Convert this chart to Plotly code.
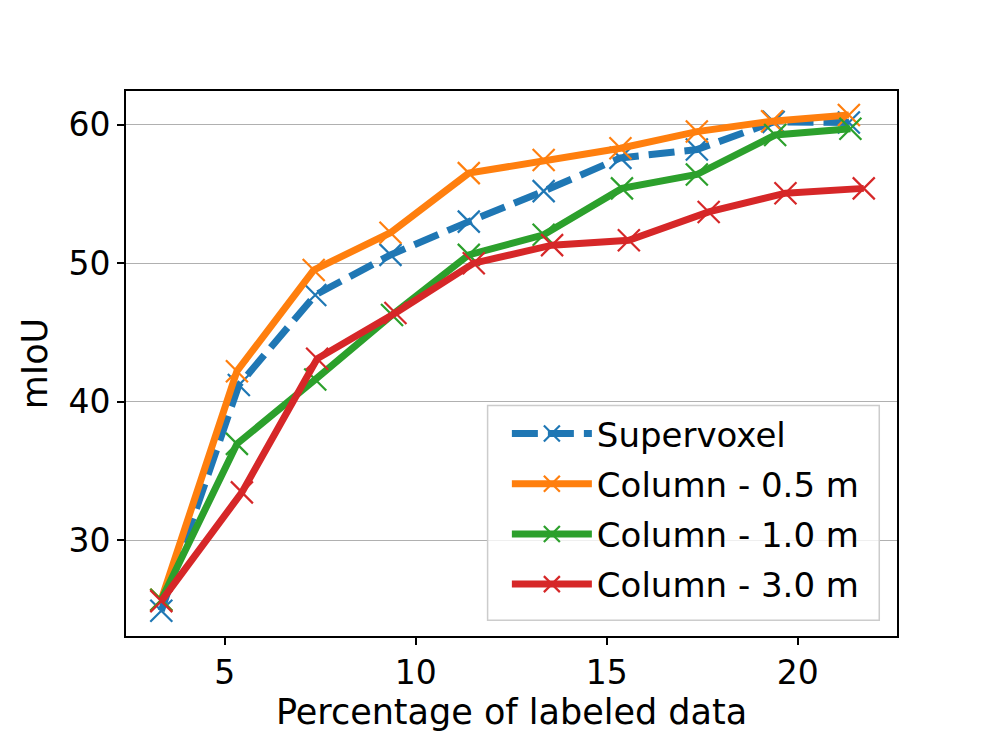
import plotly.graph_objects as go

# Data
sv_x = [3.34, 5.37, 7.37, 9.34, 11.39, 13.35, 15.36, 17.36, 19.37, 21.34]
sv_y = [24.9, 41.2, 47.7, 50.6, 53.0, 55.2, 57.6, 58.2, 60.2, 60.15]

c05_x = [3.34, 5.32, 7.33, 9.34, 11.39, 13.35, 15.36, 17.36, 19.33, 21.34]
c05_y = [25.7, 42.2, 49.5, 52.2, 56.5, 57.45, 58.3, 59.5, 60.25, 60.7]

c10_x = [3.34, 5.32, 7.37, 9.38, 11.39, 13.35, 15.40, 17.36, 19.41, 21.38]
c10_y = [25.7, 36.95, 41.6, 46.25, 50.6, 52.05, 55.4, 56.4, 59.25, 59.7]

c30_x = [3.34, 5.45, 7.42, 9.47, 11.52, 13.57, 15.58, 17.67, 19.68, 21.73]
c30_y = [25.6, 33.45, 43.1, 46.4, 50.0, 51.3, 51.65, 53.7, 55.05, 55.4]

names = ["Supervoxel", "Column - 0.5 m", "Column - 1.0 m", "Column - 3.0 m"]
colors = ["#1f77b4", "#ff7f0e", "#2ca02c", "#d62728"]
dashes = ["26px,10px", "solid", "solid", "solid"]
xticks = [5, 10, 15, 20]
yticks = [30, 40, 50, 60]

series = [(sv_x, sv_y), (c05_x, c05_y), (c10_x, c10_y), (c30_x, c30_y)]

fig = go.Figure()
for i, ((xs, ys), name, col, dash) in enumerate(zip(series, names, colors, dashes)):
    fig.add_trace(go.Scatter(
        x=xs, y=ys, name=name, mode="lines+markers",
        legendgroup=f"g{i}",
        line=dict(color=col, width=7, dash=dash),
        marker=dict(symbol="x-thin", size=22, color=col,
                    line=dict(color=col, width=2.2)),
    ))

# legend frame (matplotlib-style box)
fig.add_shape(type="rect", xref="paper", yref="paper",
              x0=0.469, x1=0.977, y0=0.029, y1=0.423,
              fillcolor="rgba(255,255,255,0.8)",
              line=dict(color="#cccccc", width=1.5), layer="above")

font = "DejaVu Sans, sans-serif"
fig.update_layout(
    width=996, height=747,
    paper_bgcolor="white", plot_bgcolor="white",
    margin=dict(l=118, r=107, t=83, b=119),
    font=dict(family=font, color="black", size=33),
    showlegend=True,
    legend=dict(
        x=0.494, y=0.424, xanchor="left", yanchor="top",
        bgcolor="rgba(0,0,0,0)", borderwidth=0,
        font=dict(family=font, size=34, color="black"),
        itemwidth=80, tracegroupgap=3,
    ),
    xaxis=dict(
        range=[2.416, 22.6], tickvals=xticks, ticktext=[str(t) for t in xticks],
        showgrid=False, zeroline=False,
        showline=True, linecolor="black", linewidth=1.6, mirror=True,
        ticks="outside", ticklen=7, tickwidth=1.6, tickcolor="black",
        tickfont=dict(family=font, size=33),
        title=dict(text="Percentage of labeled data", font=dict(family=font, size=35), standoff=6),
    ),
    yaxis=dict(
        range=[23.08, 62.43], tickvals=yticks, ticktext=[str(t) for t in yticks],
        showgrid=True, gridcolor="#b0b0b0", gridwidth=1.2, zeroline=False,
        showline=True, linecolor="black", linewidth=1.6, mirror=True,
        ticks="outside", ticklen=7, tickwidth=1.6, tickcolor="black",
        tickfont=dict(family=font, size=33),
        title=dict(text="mIoU", font=dict(family=font, size=35), standoff=10),
    ),
)

fig.write_html("out.html")
